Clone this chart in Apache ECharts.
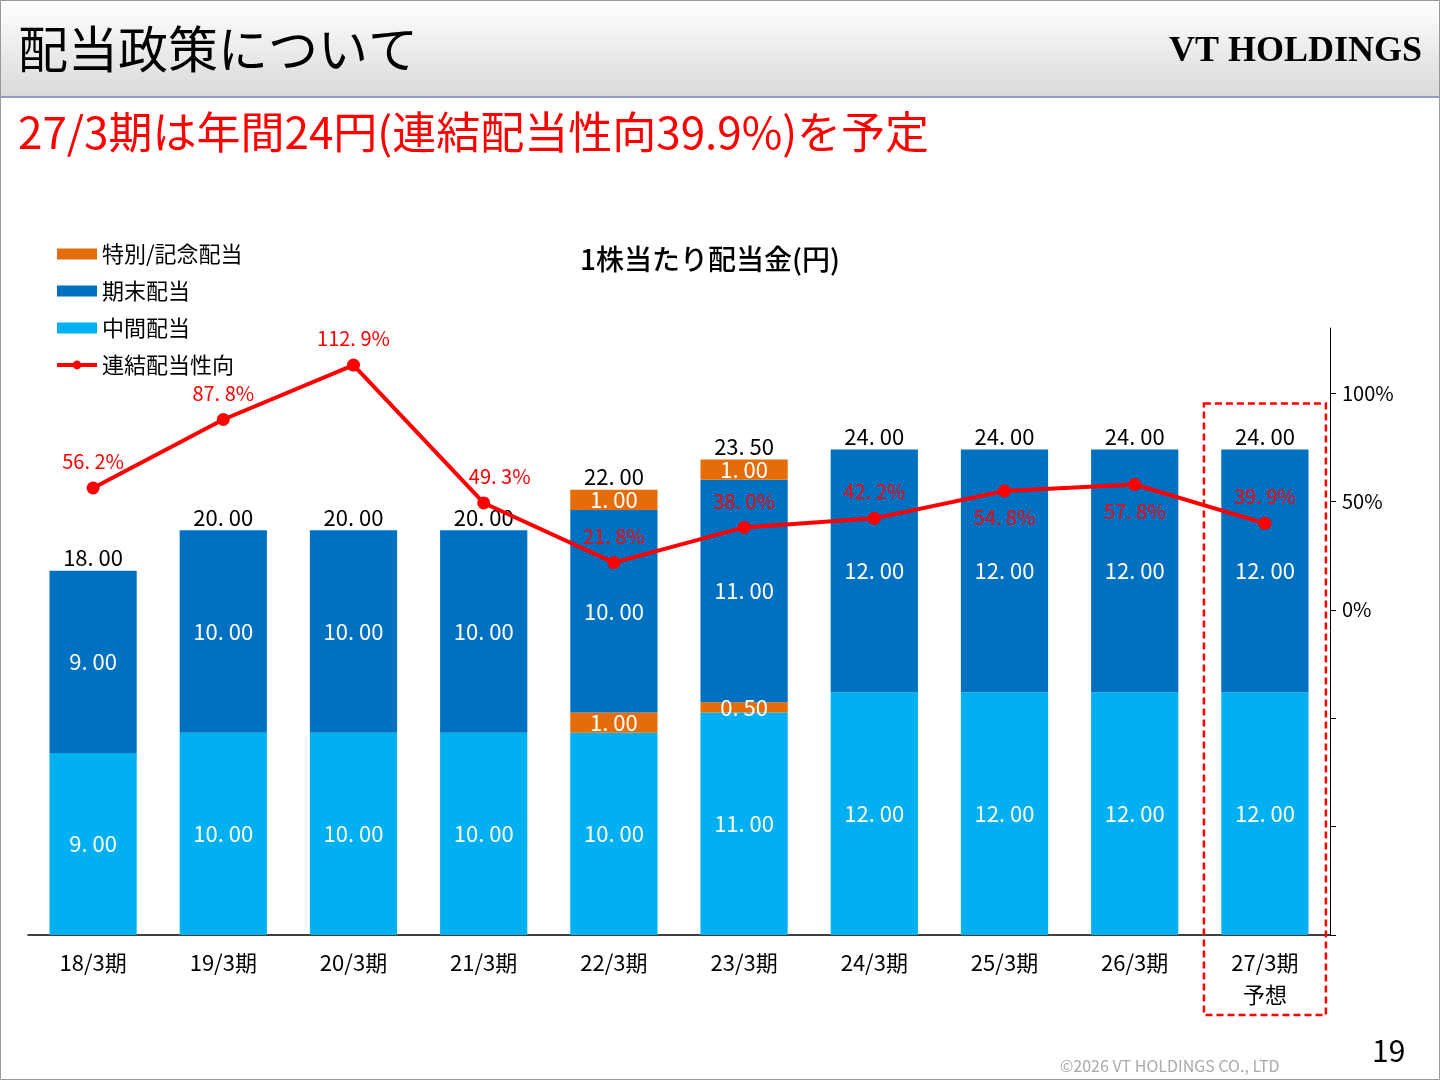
<!DOCTYPE html>
<html lang="ja">
<head>
<meta charset="utf-8">
<title>配当政策について</title>
<style>
  html, body { margin: 0; padding: 0; background: #fff; }
  #main { width: 1440px; height: 1080px; }
</style>
</head>
<body>
<script src="https://cdn.jsdelivr.net/npm/echarts@6/dist/echarts.min.js"></script>
<div id="main"></div>
<script>
var periods = ['18/3期', '19/3期', '20/3期', '21/3期', '22/3期', '23/3期', '24/3期', '25/3期', '26/3期', '27/3期\n予想'];
var interim = [9, 10, 10, 10, 10, 11, 12, 12, 12, 12];
var specialMid = [0, 0, 0, 0, 1, 0.5, 0, 0, 0, 0];
var yearEnd = [9, 10, 10, 10, 10, 11, 12, 12, 12, 12];
var specialTop = [0, 0, 0, 0, 1, 1, 0, 0, 0, 0];
var payoutRatio = [56.2, 87.8, 112.9, 49.3, 21.8, 38.0, 42.2, 54.8, 57.8, 39.9];
var ratioTicks = [-150, -100, -50, 0, 50, 100];
var ratioLabels = [0, 50, 100];

var totals = interim.map(function (v, i) {
    return v + specialMid[i] + yearEnd[i] + specialTop[i];
});

// 数字は「18. 00」のような表記
function fmt(v) {
    return v.toFixed(2).replace('.', '. ');
}

var FONT = '"Noto Sans CJK JP", "Noto Sans", sans-serif';
var ORANGE = '#E46C0A', DARK = '#0070C0', LIGHT = '#00B0F0', RED = '#FF0000';

// 配当性向ラベルの位置（下に出すもの）
var belowIdx = [7, 8];

var dom = document.getElementById('main');
var myChart = echarts.init(dom);

var innerLabel = {
    show: true,
    color: '#fff',
    fontSize: 22,
    fontFamily: FONT,
    formatter: function (p) { return p.value > 0 ? fmt(p.value) : ''; }
};

var option = {
    animation: false,
    backgroundColor: '#fff',
    textStyle: { fontFamily: FONT },
    title: {
        text: '1株当たり配当金(円)',
        left: 705,
        top: 240,
        textAlign: 'center',
        textStyle: { fontSize: 28, fontWeight: 500, color: '#000', fontFamily: FONT }
    },
    legend: {
        orient: 'vertical',
        left: 50,
        top: 238,
        itemWidth: 40,
        itemHeight: 11,
        itemGap: 15,
        textStyle: { fontSize: 22, color: '#000', fontFamily: FONT },
        data: [
            { name: '特別/記念配当', icon: 'rect' },
            { name: '期末配当', icon: 'rect' },
            { name: '中間配当', icon: 'rect' },
            { name: '連結配当性向', itemStyle: { borderWidth: 0 }, lineStyle: { width: 4 } }
        ]
    },
    grid: { left: 28, right: 110, top: 328, bottom: 145 },
    xAxis: {
        type: 'category',
        data: periods,
        axisLine: { lineStyle: { color: '#000', width: 1.5 } },
        axisTick: { show: false },
        axisLabel: { color: '#000', fontSize: 22, fontFamily: FONT, margin: 12, lineHeight: 32 }
    },
    yAxis: [{
        type: 'value',
        min: 0,
        max: 30,
        show: false
    }, {
        type: 'value',
        position: 'right',
        min: -150,
        max: 130,
        interval: 50,
        splitLine: { show: false },
        axisLine: { show: true, lineStyle: { color: '#000' } },
        axisTick: { show: true, length: 6, lineStyle: { color: '#000' }, customValues: ratioTicks },
        axisLabel: {
            color: '#000', fontSize: 20, fontFamily: FONT, margin: 12,
            customValues: ratioLabels,
            formatter: function (v) { return v + '%'; }
        }
    }],
    series: [{
        name: '中間配当',
        type: 'bar',
        stack: 'div',
        barWidth: '67%',
        itemStyle: { color: LIGHT },
        label: innerLabel,
        data: interim
    }, {
        name: '特別/記念配当',
        type: 'bar',
        stack: 'div',
        itemStyle: { color: ORANGE },
        label: innerLabel,
        data: specialMid
    }, {
        name: '期末配当',
        type: 'bar',
        stack: 'div',
        itemStyle: { color: DARK },
        label: innerLabel,
        data: yearEnd
    }, {
        name: '特別/記念配当',
        type: 'bar',
        stack: 'div',
        itemStyle: { color: ORANGE },
        label: innerLabel,
        data: specialTop
    }, {
        name: '合計',
        type: 'bar',
        stack: 'div',
        itemStyle: { color: 'transparent' },
        label: {
            show: true,
            position: 'top',
            distance: 2,
            color: '#000',
            fontSize: 22,
            fontFamily: FONT,
            formatter: function (p) { return fmt(totals[p.dataIndex]); }
        },
        data: totals.map(function () { return 0; })
    }, {
        name: '連結配当性向',
        type: 'line',
        yAxisIndex: 1,
        symbol: 'circle',
        symbolSize: 13,
        z: 10,
        lineStyle: { color: RED, width: 4 },
        itemStyle: { color: RED },
        label: {
            show: true,
            color: RED,
            fontSize: 20,
            fontFamily: FONT
        },
        data: payoutRatio.map(function (v, i) {
            return {
                value: v,
                label: {
                    position: belowIdx.indexOf(i) >= 0 ? 'bottom' : 'top',
                    distance: 10,
                    offset: i === 3 ? [16, 0] : [0, 0],
                    formatter: fmt(v).slice(0, -1) + '%'
                }
            };
        })
    }],
    graphic: [
        {
            type: 'rect',
            shape: { x: 0, y: 0, width: 1440, height: 97 },
            style: {
                fill: new echarts.graphic.LinearGradient(0, 0, 0, 1, [
                    { offset: 0, color: '#ffffff' },
                    { offset: 1, color: '#d9d9d9' }
                ])
            }
        },
        { type: 'rect', shape: { x: 0, y: 96, width: 1440, height: 2 }, style: { fill: '#8e9cc9' } },
        {
            type: 'text', left: 18, top: 24,
            style: { text: '配当政策について', font: '50px ' + FONT, fill: '#000' }
        },
        {
            type: 'text', right: 18, top: 34,
            style: { text: 'VT HOLDINGS', font: 'bold 36px "Liberation Serif", serif', fill: '#000' }
        },
        {
            type: 'text', left: 18, top: 110,
            style: { text: '27/3期は年間24円(連結配当性向39.9%)を予定', font: '44px ' + FONT, fill: RED }
        },
        {
            type: 'text', left: 1060, top: 1058,
            style: { text: '©2026 VT HOLDINGS CO., LTD', font: '16px ' + FONT, fill: '#aaa' }
        },
        {
            type: 'text', left: 1372, top: 1036,
            style: { text: '19', font: '30px ' + FONT, fill: '#000' }
        },
        {
            type: 'rect', shape: { x: 0.5, y: 0.5, width: 1439, height: 1079 },
            style: { fill: 'none', stroke: '#999', lineWidth: 1 }
        }
    ]
};
myChart.setOption(option);

// 予想期を囲む赤い点線枠
var last = periods.length - 1;
var topPx = myChart.convertToPixel({ yAxisIndex: 0 }, totals[last]);
var cx = myChart.convertToPixel({ xAxisIndex: 0 }, last);
myChart.setOption({
    graphic: option.graphic.concat([{
        type: 'rect',
        shape: { x: cx - 61, y: topPx - 46, width: 122, height: 1015 - (topPx - 46) },
        style: { fill: 'none', stroke: RED, lineWidth: 2.5, lineDash: [7, 4] },
        z: 100
    }])
});
</script>
</body>
</html>
